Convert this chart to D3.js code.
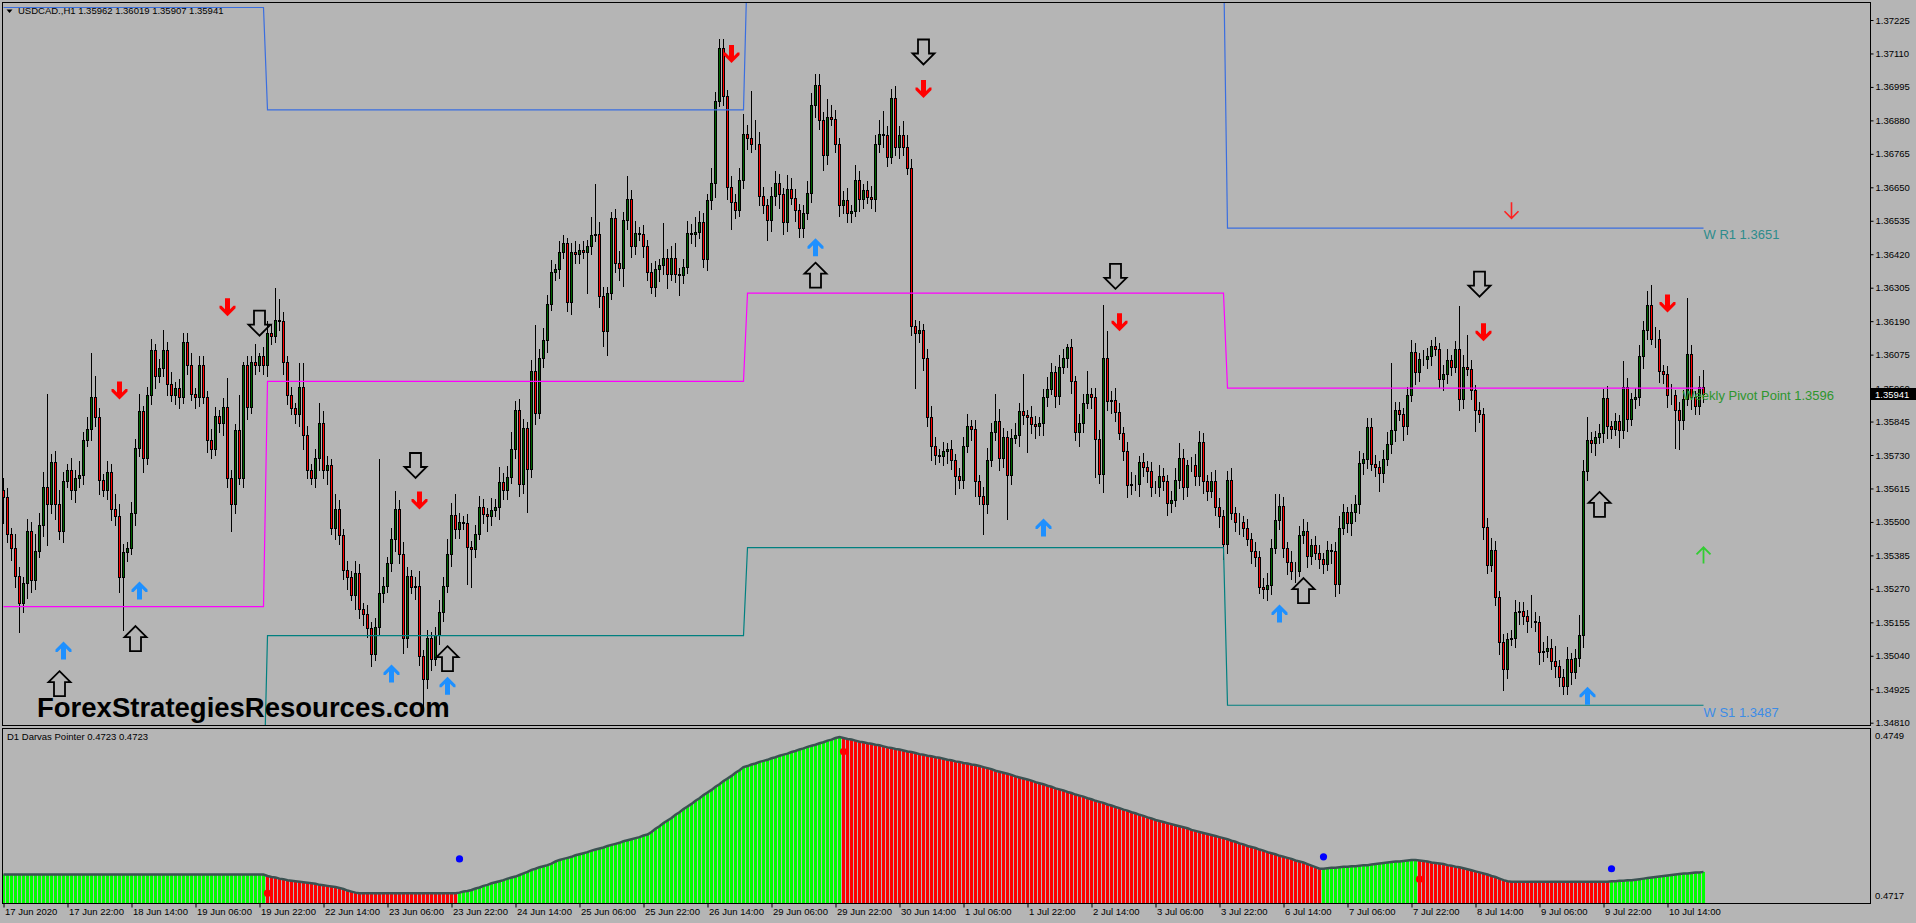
<!DOCTYPE html>
<html><head><meta charset="utf-8">
<script src="https://cdn.jsdelivr.net/npm/d3@7"></script>
<style>
body{margin:0;background:#b5b5b5;overflow:hidden}
svg{display:block}
</style>
</head><body>
<svg id="c" width="1916" height="923"></svg>
<script>
// ---------------- DATA ----------------
const symbolHeader = "USDCAD.,H1  1.35962 1.36019 1.35907 1.35941";
const indicatorHeader = "D1 Darvas Pointer 0.4723 0.4723";
const watermark = "ForexStrategiesResources.com";
const firstOpen = 1.35610;
// hourly closes, 17 Jun 2020 06:00 .. 10 Jul 2020 23:00
const closes = [
1.35585,1.35460,1.35410,1.35315,1.35220,1.35290,1.35470,1.35300,1.35400,1.35490,
1.35620,1.35560,1.35705,1.35560,1.35470,1.35640,1.35680,1.35610,1.35650,1.35660,
1.35780,1.35820,1.35930,1.35860,1.35645,1.35610,1.35670,1.35545,1.35520,1.35310,
1.35395,1.35410,1.35530,1.35755,1.35880,1.35720,1.35935,1.36090,1.36000,1.36030,
1.36090,1.35975,1.35935,1.35960,1.35930,1.36120,1.36040,1.35940,1.35930,1.36040,
1.35930,1.35780,1.35750,1.35865,1.35840,1.35895,1.35650,1.35560,1.35815,1.35650,
1.36040,1.35895,1.36050,1.36040,1.36070,1.36040,1.36150,1.36140,1.36195,1.36190,
1.36050,1.35935,1.35890,1.35870,1.35965,1.35800,1.35680,1.35650,1.35720,1.35840,
1.35680,1.35695,1.35480,1.35545,1.35455,1.35335,1.35310,1.35250,1.35325,1.35200,
1.35185,1.35135,1.35045,1.35140,1.35255,1.35280,1.35360,1.35440,1.35545,1.35390,
1.35100,1.35315,1.35275,1.35280,1.35040,1.34960,1.35100,1.35030,1.35110,1.35190,
1.35280,1.35390,1.35525,1.35475,1.35500,1.35497,1.35415,1.35408,1.35460,1.35550,
1.35527,1.35520,1.35542,1.35550,1.35638,1.35610,1.35653,1.35750,1.35884,1.35630,
1.35824,1.35683,1.36018,1.35876,1.36063,1.36125,1.36249,1.36360,1.36368,1.36427,
1.36457,1.36256,1.36427,1.36420,1.36435,1.36427,1.36450,1.36487,1.36490,1.36278,
1.36155,1.36286,1.36546,1.36390,1.36372,1.36536,1.36610,1.36450,1.36494,1.36490,
1.36450,1.36360,1.36308,1.36368,1.36382,1.36408,1.36353,1.36408,1.36353,1.36350,
1.36375,1.36494,1.36490,1.36497,1.36530,1.36405,1.36606,1.36665,1.36948,1.37130,
1.36963,1.36650,1.36598,1.36573,1.36676,1.36833,1.36821,1.36800,1.36800,1.36620,
1.36590,1.36539,1.36620,1.36665,1.36628,1.36530,1.36643,1.36613,1.36573,1.36509,
1.36560,1.36630,1.36933,1.37000,1.36880,1.36760,1.36893,1.36884,1.36800,1.36590,
1.36606,1.36560,1.36570,1.36676,1.36610,1.36640,1.36616,1.36610,1.36800,1.36833,
1.36830,1.36754,1.36958,1.36790,1.36829,1.36790,1.36717,1.36174,1.36150,1.36160,
1.36063,1.35860,1.35762,1.35730,1.35725,1.35743,1.35750,1.35713,1.35657,1.35645,
1.35762,1.35830,1.35820,1.35640,1.35590,1.35560,1.35713,1.35810,1.35848,1.35720,
1.35792,1.35660,1.35790,1.35800,1.35880,1.35866,1.35860,1.35835,1.35830,1.35840,
1.35928,1.35958,1.36016,1.35934,1.36032,1.36063,1.36100,1.35983,1.35810,1.35840,
1.35910,1.35940,1.35930,1.35786,1.35663,1.36065,1.35915,1.35920,1.35878,1.35805,
1.35743,1.35627,1.35630,1.35630,1.35706,1.35688,1.35676,1.35620,1.35620,1.35657,
1.35640,1.35565,1.35575,1.35645,1.35720,1.35620,1.35694,1.35694,1.35657,1.35774,
1.35640,1.35606,1.35640,1.35553,1.35522,1.35424,1.35645,1.35530,1.35500,1.35500,
1.35480,1.35442,1.35400,1.35380,1.35276,1.35270,1.35283,1.35412,1.35505,1.35556,
1.35410,1.35361,1.35333,1.35333,1.35456,1.35470,1.35384,1.35420,1.35392,1.35373,
1.35356,1.35404,1.35400,1.35287,1.35480,1.35533,1.35495,1.35533,1.35562,1.35703,
1.35717,1.35826,1.35700,1.35688,1.35667,1.35717,1.35768,1.35817,1.35883,1.35870,
1.35831,1.35935,1.36084,1.36015,1.36060,1.36060,1.36069,1.36104,1.36095,1.35992,
1.36009,1.36055,1.36034,1.36093,1.35923,1.36032,1.36026,1.35952,1.35883,1.35872,
1.35482,1.35353,1.35404,1.35243,1.35086,1.34994,1.35097,1.35100,1.35190,1.35195,
1.35178,1.35160,1.35160,1.35155,1.35052,1.35057,1.35067,1.35023,1.35006,1.34966,
1.34937,1.35030,1.34983,1.35034,1.35110,1.35674,1.35780,1.35770,1.35791,1.35805,
1.35927,1.35828,1.35820,1.35846,1.35817,1.35963,1.35854,1.35923,1.35931,1.36069,
1.36160,1.36244,1.36130,1.36130,1.36020,1.36007,1.35935,1.35935,1.35883,1.35850,
1.35923,1.36078,1.35929,1.35900,1.35962,1.35941];
// upper wick above body (pips)
const upWick = [
4,3,2,5,3,2,4,3,6,4, 5,32,3,4,5,3,2,4,3,5, 3,4,15,7,3,2,4,3,5,4, 3,2,4,3,6,2,3,4,2,3,
7,3,4,2,3,3,3,4,2,3, 3,2,4,3,2,3,10,3,2,12, 1,3,2,6,1,3,4,3,11,7, 3,2,3,2,8,8,3,2,3,7,
4,3,2,5,3,2,3,2,4,3, 2,3,2,3,46,3,2,4,6,3, 4,3,2,3,5,2,3,2,3,4, 3,5,4,7,3,2,3,2,3,4,
3,2,4,3,5,3,4,6,3,4, 3,2,4,16,3,4,3,4,2,4, 3,2,3,4,2,3,2,6,17,4, 3,2,2,3,4,3,8,3,4,2,
3,2,3,3,2,12,3,4,5,2, 3,4,3,5,4,3,2,5,3,3, 3,2,4,3,4,7,3,16,8,4, 3,2,3,4,3,2,5,4,3,2,
3,4,4,4,4,3,6,4,3,2, 3,4,2,5,3,2,3,4,3,5, 8,3,3,4,3,5,4,3,2,3, 2,3,4,3,2,3,2,3,2,3,
3,4,2,3,2,3,4,3,9,4, 3,2,3,4,3,13,2,4,3,2, 3,4,3,2,4,3,1,3,2,3, 3,8,2,3,3,18,9,3,4,3,
2,3,4,3,2,3,2,3,2,4, 3,2,3,4,5,3,2,3,4,4, 3,2,3,4,3,2,3,4,2,3, 2,3,2,3,2,3,4,3,9,4,
3,2,4,3,3,4,3,2,3,3, 2,3,2,3,4,3,2,3,3,4, 2,3,3,3,2,3,4,23,3,3, 2,3,4,3,2,3,3,2,3,2,
3,4,2,3,15,4,11,3,2,3, 2,3,4,3,2,3,2,3,4,3, 3,2,9,3,2,3,4,3,5,2, 3,4,2,3,7,4,8,3,2,3,
3,4,2,3,2,9,3,2,3,4, 3,5,7,4,3,2,3,4,2,3, 3,19,3,2,4,6];
// lower wick below body (pips)
const dnWick = [
9,3,4,4,10,3,5,4,3,2, 4,14,3,5,3,4,2,3,4,3, 3,2,4,3,5,2,3,4,3,5, 18,3,2,4,3,5,2,3,4,2,
3,4,2,3,4,2,3,2,4,3, 2,4,3,2,3,4,3,9,3,2, 3,4,2,3,2,3,4,3,2,3, 4,3,2,3,4,5,3,2,3,4,
3,5,2,4,3,3,4,2,5,3, 4,3,4,2,3,3,2,3,4,3, 5,3,2,4,3,11,3,4,2,3, 3,2,4,3,3,2,13,13,3,2,
3,5,3,2,4,3,3,2,3,4, 3,15,3,4,2,3,4,2,3,3, 2,3,4,3,3,2,14,3,2,4, 5,8,2,3,4,6,3,4,3,2,
4,3,2,3,4,3,5,2,3,7, 3,2,3,4,2,3,4,3,5,2, 3,4,9,3,2,3,4,3,2,3, 3,7,4,3,5,4,3,2,4,3,
3,2,3,4,3,5,3,2,3,4, 3,3,3,2,4,3,2,3,4,3, 4,3,2,3,4,3,2,3,19,3, 4,3,5,3,2,3,4,3,6,3,
3,2,4,5,3,10,3,2,3,4, 3,15,3,2,4,3,12,3,4,3, 4,3,2,4,3,2,3,4,3,5, 3,2,4,13,3,6,3,4,3,2,
3,4,3,2,4,3,4,3,2,3, 3,4,3,2,3,4,3,2,3,3, 4,3,2,3,4,5,3,2,3,4, 3,2,4,3,2,3,4,3,2,3,
3,4,3,4,2,3,4,3,2,3, 3,2,4,4,3,2,3,4,3,3, 4,3,2,3,6,3,2,3,4,2, 5,3,2,4,3,2,3,3,2,3,
4,3,3,2,4,3,2,3,7,3, 4,3,2,3,4,7,3,2,3,4, 3,4,2,3,4,3,2,3,4,3, 3,3,4,2,3,4,3,3,4,2,
3,4,3,2,6,3,4,2,3,3, 4,3,2,3,4,3,4,3,13,10, 3,2,4,3,3,3];

const priceTicks = ["1.37225","1.37110","1.36995","1.36880","1.36765","1.36650","1.36535","1.36420",
"1.36305","1.36190","1.36075","1.35960","1.35845","1.35730","1.35615","1.35500","1.35385","1.35270",
"1.35155","1.35040","1.34925","1.34810"];
const lastPrice = 1.35941;
const timeLabels = ["17 Jun 2020","17 Jun 22:00","18 Jun 14:00","19 Jun 06:00","19 Jun 22:00","22 Jun 14:00",
"23 Jun 06:00","23 Jun 22:00","24 Jun 14:00","25 Jun 06:00","25 Jun 22:00","26 Jun 14:00","29 Jun 06:00",
"29 Jun 22:00","30 Jun 14:00","1 Jul 06:00","1 Jul 22:00","2 Jul 14:00","3 Jul 06:00","3 Jul 22:00",
"6 Jul 14:00","7 Jul 06:00","7 Jul 22:00","8 Jul 14:00","9 Jul 06:00","9 Jul 22:00","10 Jul 14:00"];
const timeTickBars = [0,16,32,48,64,80,96,112,128,144,160,176,192,208,224,240,256,272,288,304,320,336,352,368,384,400,416];

// weekly pivots (first bar of each week)
const weekStart = [0,66,186,306];
const weekR1 = [1.37268,1.36916,1.37450,1.36510];
const weekPP = [1.35209,1.35983,1.36286,1.35960];
const weekS1 = [1.34550,1.35109,1.35412,1.34870];
const pivotLabels = ["W R1  1.3651","Weekly Pivot Point  1.3596","W S1 1.3487"];

// signal arrows [bar, price]
const blueUp = [[15,1.35058],[34,1.35264],[97,1.34979],[111,1.34937],[203,1.36444],[260,1.35481],[319,1.35185],[396,1.34903]];
const redDown = [[29,1.35952],[56,1.36238],[104,1.35574],[182,1.37108],[230,1.36988],[279,1.36186],[370,1.36152],[416,1.36251]];
const hollowUp = [[14,1.34944],[33,1.35099],[111,1.35030],[203,1.36348],[325,1.35264],[399,1.35560]];
const hollowDown = [[64,1.36183],[103,1.35694],[230,1.37115],[278,1.36344],[369,1.36317]];
const thinDown = [[377,1.36571]];
const thinUp = [[425,1.35385]];

// D1 Darvas Pointer values per bar
const darvas = [
.47225,.47225,.47225,.47225,.47225,.47225,.47225,.47225,.47225,.47225,.47225,
.47225,.47225,.47225,.47225,.47225,.47225,.47225,.47225,.47225,.47225,.47225,
.47225,.47225,.47225,.47225,.47225,.47225,.47225,.47225,.47225,.47225,.47225,
.47225,.47225,.47225,.47225,.47225,.47225,.47225,.47225,.47225,.47225,.47225,
.47225,.47225,.47225,.47225,.47225,.47225,.47225,.47225,.47225,.47225,.47225,
.47225,.47225,.47225,.47225,.47225,.47225,.47225,.47225,.47225,.47225,.47225,
.47222,.47220,.47219,.47217,.47216,.47214,.47213,.47212,.47211,.47210,.47209,.47208,
.47207,.47205,.47204,.47203,.47202,.47201,.47199,.47197,.47194,.47192,.47190,
.47189,.47189,.47189,.47189,.47189,.47189,.47189,.47189,.47189,.47189,.47189,.47189,.47189,
.47189,.47189,.47189,.47189,.47189,.47189,.47189,.47189,.47189,.47189,.47189,.47189,
.47190,.47192,.47193,.47195,.47198,.47200,.47203,.47205,.47208,.47210,.47212,.47214,.47217,
.47219,.47221,.47224,.47227,.47230,.47234,.47236,.47239,.47241,.47243,.47246,.47250,.47253,
.47255,.47257,.47259,.47262,.47264,.47266,.47268,.47271,.47273,.47275,.47277,
.47280,.47282,.47284,.47286,.47289,.47291,.47293,.47295,.47297,.47300,.47302,
.47307,.47313,.47318,.47324,.47329,.47334,.47340,.47345,.47351,.47356,.47361,.47367,
.47372,.47378,.47383,.47388,.47394,.47399,.47405,.47410,.47415,.47421,.47426,.47432,
.47434,.47437,.47439,.47442,.47444,.47446,.47449,.47451,.47454,.47456,.47458,.47461,
.47463,.47466,.47468,.47471,.47473,.47475,.47478,.47480,.47483,.47485,.47488,.47490,
.47488,.47486,.47485,.47483,.47481,.47480,.47478,.47477,.47475,.47474,
.47472,.47470,.47469,.47467,.47466,.47464,.47462,.47461,.47459,.47457,
.47456,.47454,.47453,.47451,.47450,.47448,.47446,.47445,.47443,.47442,
.47440,.47439,.47437,.47436,.47434,.47432,.47430,.47428,.47425,.47423,
.47421,.47419,.47417,.47414,.47412,.47410,.47408,.47406,.47403,.47401,
.47399,.47396,.47394,.47391,.47389,.47387,.47384,.47382,.47379,.47377,
.47375,.47372,.47370,.47367,.47365,.47363,.47360,.47358,.47355,.47353,
.47350,.47348,.47345,.47343,.47340,.47338,.47335,.47333,.47330,.47328,
.47326,.47324,.47322,.47320,.47318,.47316,.47314,.47311,.47309,.47307,
.47305,.47303,.47301,.47299,.47297,.47295,.47293,.47290,.47288,.47285,
.47283,.47280,.47278,.47276,.47273,.47271,.47268,.47266,.47264,.47261,
.47259,.47257,.47255,.47252,.47250,.47248,.47245,.47242,.47239,.47236,
.47236,.47237,.47238,.47238,.47239,.47240,.47240,.47241,.47241,.47242,.47243,.47243,
.47244,.47245,.47246,.47247,.47248,.47249,.47250,.47250,.47251,.47252,.47253,.47253,
.47252,.47251,.47250,.47248,.47247,.47246,.47245,.47243,.47242,.47240,.47239,.47237,
.47235,.47233,.47231,.47229,.47227,.47225,.47222,.47220,.47217,.47214,.47212,.47211,
.47211,.47211,.47211,.47211,.47211,.47211,.47211,.47211,.47211,.47211,.47211,.47211,
.47211,.47211,.47211,.47211,.47211,.47211,.47211,.47211,.47211,.47211,.47211,.47211,
.47212,.47212,.47213,.47213,.47214,.47214,.47215,.47216,.47217,.47218,.47219,.47220,
.47221,.47222,.47223,.47224,.47225,.47226,.47227,.47227,.47228,.47229,.47229,.47230];
const darvasTrend = [[0,"up"],[66,"dn"],[114,"up"],[210,"dn"],[330,"up"],[354,"dn"],[402,"up"]];
const darvasDots = [[66,0.47189,"dn"],[114,0.47255,"up"],[210,0.47462,"dn"],[330,0.47259,"up"],[354,0.47216,"dn"],[402,0.47236,"up"]];
const darvasAxis = [0.4749,0.4717];

// ---------------- DRAW ----------------
const W = 1916, H = 923;
const FONT = "'Liberation Sans', Arial, sans-serif";
const BG = "#b5b5b5";
const svg = d3.select("#c");
const N = closes.length;

const x = d3.scaleLinear().domain([0, 425]).range([3.5, 1703.5]);
const y = d3.scaleLinear().domain([1.34810, 1.37225]).range([722.7, 20]);
const yi = d3.scaleLinear().domain([darvasAxis[1], darvasAxis[0]]).range([903, 737]);

svg.append("rect").attr("width", W).attr("height", H).attr("fill", BG);
const defs = svg.append("defs");
defs.append("clipPath").attr("id", "cm").append("rect").attr("x", 3).attr("y", 3).attr("width", 1867).attr("height", 722);
defs.append("clipPath").attr("id", "ci").append("rect").attr("x", 3).attr("y", 729).attr("width", 1867).attr("height", 174);

const bars = closes.map((c, i) => {
  const o = i ? closes[i - 1] : firstOpen;
  return { i, o, c, h: Math.max(o, c) + (upWick[i] || 0) * 1e-4, l: Math.min(o, c) - (dnWick[i] || 0) * 1e-4 };
});

const gM = svg.append("g").attr("clip-path", "url(#cm)");
// candles
gM.append("g").selectAll("line").data(bars).join("line")
  .attr("x1", d => x(d.i)).attr("x2", d => x(d.i))
  .attr("y1", d => Math.round(y(d.h))).attr("y2", d => Math.round(y(d.l)) + 1)
  .attr("stroke", "#000").attr("stroke-width", 1);
gM.append("g").selectAll("rect").data(bars).join("rect")
  .attr("x", d => x(d.i) - 1).attr("width", 2)
  .attr("y", d => Math.round(y(Math.max(d.o, d.c))) + 0.5)
  .attr("height", d => Math.max(0, Math.round(y(Math.min(d.o, d.c))) - Math.round(y(Math.max(d.o, d.c)))))
  .attr("fill", d => d.c >= d.o ? "#006400" : "#ff0000")
  .attr("stroke", "#000").attr("stroke-width", 1);

// pivot lines
function weekVal(arr, i) { let k = 0; weekStart.forEach((s, j) => { if (i >= s) k = j; }); return arr[k]; }
const idx = d3.range(N);
const pline = d3.line().x(i => x(i)).y(i => y(i.v));
[[weekR1, "#3a6ee0"], [weekPP, "#ff00ff"], [weekS1, "#008080"]].forEach(([arr, col]) => {
  gM.append("path").datum(idx.map(i => [x(i), y(weekVal(arr, i))]))
    .attr("d", d3.line()).attr("fill", "none").attr("stroke", col).attr("stroke-width", 1.2);
});

// arrows
const thickUp = "M0,-9 L8,-1 L8,1.5 L6,1.5 L2.5,-2 L2.5,9 L-2.5,9 L-2.5,-2 L-6,1.5 L-8,1.5 L-8,-1 Z";
const hollowUpPath = "M0,-12.5 L11,-1.5 L5.5,-1.5 L5.5,12.5 L-5.5,12.5 L-5.5,-1.5 L-11,-1.5 Z";
const thinUpPath = "M0,-8 L0,8 M-7,-1 L0,-8 L7,-1";
function drawArrows(data, path, rot, fill, stroke, sw) {
  gM.append("g").selectAll("path").data(data).join("path")
    .attr("d", path)
    .attr("transform", d => `translate(${x(d[0])},${y(d[1])}) rotate(${rot})`)
    .attr("fill", fill).attr("stroke", stroke).attr("stroke-width", sw)
    .attr("stroke-linejoin", "miter");
}
drawArrows(blueUp, thickUp, 0, "#1e90ff", "none", 0);
drawArrows(redDown, thickUp, 180, "#ff0000", "none", 0);
drawArrows(hollowUp, hollowUpPath, 0, "none", "#000", 1.8);
drawArrows(hollowDown, hollowUpPath, 180, "none", "#000", 1.8);
drawArrows(thinDown, thinUpPath, 180, "none", "#ff2020", 1.6);
drawArrows(thinUp, thinUpPath, 0, "none", "#32cd32", 1.8);

// pivot labels
const lastX = x(N - 1);
gM.append("text").attr("x", lastX).attr("y", y(weekR1[3]) + 11).text(pivotLabels[0])
  .attr("font-family", FONT).attr("font-size", 13).attr("fill", "#2d8c8c");
gM.append("text").attr("x", lastX - 21).attr("y", y(weekPP[3]) + 12).text(pivotLabels[1])
  .attr("font-family", FONT).attr("font-size", 13).attr("fill", "#2e962e");
gM.append("text").attr("x", lastX).attr("y", y(weekS1[3]) + 12).text(pivotLabels[2])
  .attr("font-family", FONT).attr("font-size", 13).attr("fill", "#3c8ce6");

// watermark
gM.append("text").attr("x", 37).attr("y", 717).text(watermark)
  .attr("font-family", FONT).attr("font-weight", "bold").attr("font-size", 27.5).attr("fill", "#000");

// header
svg.append("path").attr("d", "M6.5,9.5 L12.5,9.5 L9.5,13 Z").attr("fill", "#000");
svg.append("text").attr("x", 18).attr("y", 14).text(symbolHeader)
  .attr("font-family", FONT).attr("font-size", 9.5).attr("fill", "#000");

// indicator
const gI = svg.append("g").attr("clip-path", "url(#ci)");
function trendAt(i) { let t = "up"; darvasTrend.forEach(([s, d]) => { if (i >= s) t = d; }); return t; }
gI.append("g").selectAll("rect").data(darvas).join("rect")
  .attr("x", (d, i) => x(i) - 1.5).attr("width", 3)
  .attr("y", d => yi(d)).attr("height", d => 904 - yi(d))
  .attr("fill", (d, i) => trendAt(i) === "up" ? "#00ff00" : "#ff0000");
gI.append("path").datum(darvas)
  .attr("d", d3.line().x((d, i) => x(i)).y(d => yi(d)))
  .attr("fill", "none").attr("stroke", "#3b5252").attr("stroke-width", 2.5);
gI.append("g").selectAll("circle").data(darvasDots).join("circle")
  .attr("cx", d => x(d[0])).attr("cy", d => yi(d[1])).attr("r", 3.6)
  .attr("fill", d => d[2] === "up" ? "#0000ff" : "#ff0000");
svg.append("text").attr("x", 7).attr("y", 740).text(indicatorHeader)
  .attr("font-family", FONT).attr("font-size", 9.5).attr("fill", "#000");

// frames
svg.append("rect").attr("x", 2.5).attr("y", 2.5).attr("width", 1868).attr("height", 723)
  .attr("fill", "none").attr("stroke", "#000");
svg.append("rect").attr("x", 2.5).attr("y", 728.5).attr("width", 1868).attr("height", 175)
  .attr("fill", "none").attr("stroke", "#000");

// price axis
const pAxis = d3.axisRight(y).tickValues(priceTicks.map(Number))
  .tickFormat((d, k) => priceTicks[k]).tickSize(3).tickPadding(2);
const gp = svg.append("g").attr("transform", "translate(1870.5,0)").call(pAxis);
gp.select(".domain").remove();
gp.attr("font-family", FONT).attr("font-size", 9.5);
gp.selectAll("text").attr("fill", "#000");
gp.selectAll("line").attr("stroke", "#000");

// last price marker
const ly = Math.round(y(lastPrice));
svg.append("rect").attr("x", 1871).attr("y", ly - 6).attr("width", 45).attr("height", 12).attr("fill", "#000");
svg.append("text").attr("x", 1875).attr("y", ly + 3.5).text(d3.format(".5f")(lastPrice))
  .attr("font-family", FONT).attr("font-size", 9.5).attr("fill", "#fff");

// indicator axis labels
svg.append("g").selectAll("text").data(darvasAxis).join("text")
  .attr("x", 1875).attr("y", (d, k) => yi(d) + (k === 0 ? 1.5 : -4.5))
  .text(d => d3.format(".4f")(d))
  .attr("font-family", FONT).attr("font-size", 9.5).attr("fill", "#000");

// time axis
const tAxis = d3.axisBottom(x).tickValues(timeTickBars)
  .tickFormat((d, k) => timeLabels[k]).tickSize(4).tickPadding(1);
const gt = svg.append("g").attr("transform", "translate(0,903.5)").call(tAxis);
gt.select(".domain").remove();
gt.attr("font-family", FONT).attr("font-size", 9.5);
gt.selectAll("text").attr("text-anchor", "start").attr("x", 1).attr("fill", "#000");
gt.selectAll("line").attr("stroke", "#000");
</script>
</body></html>
